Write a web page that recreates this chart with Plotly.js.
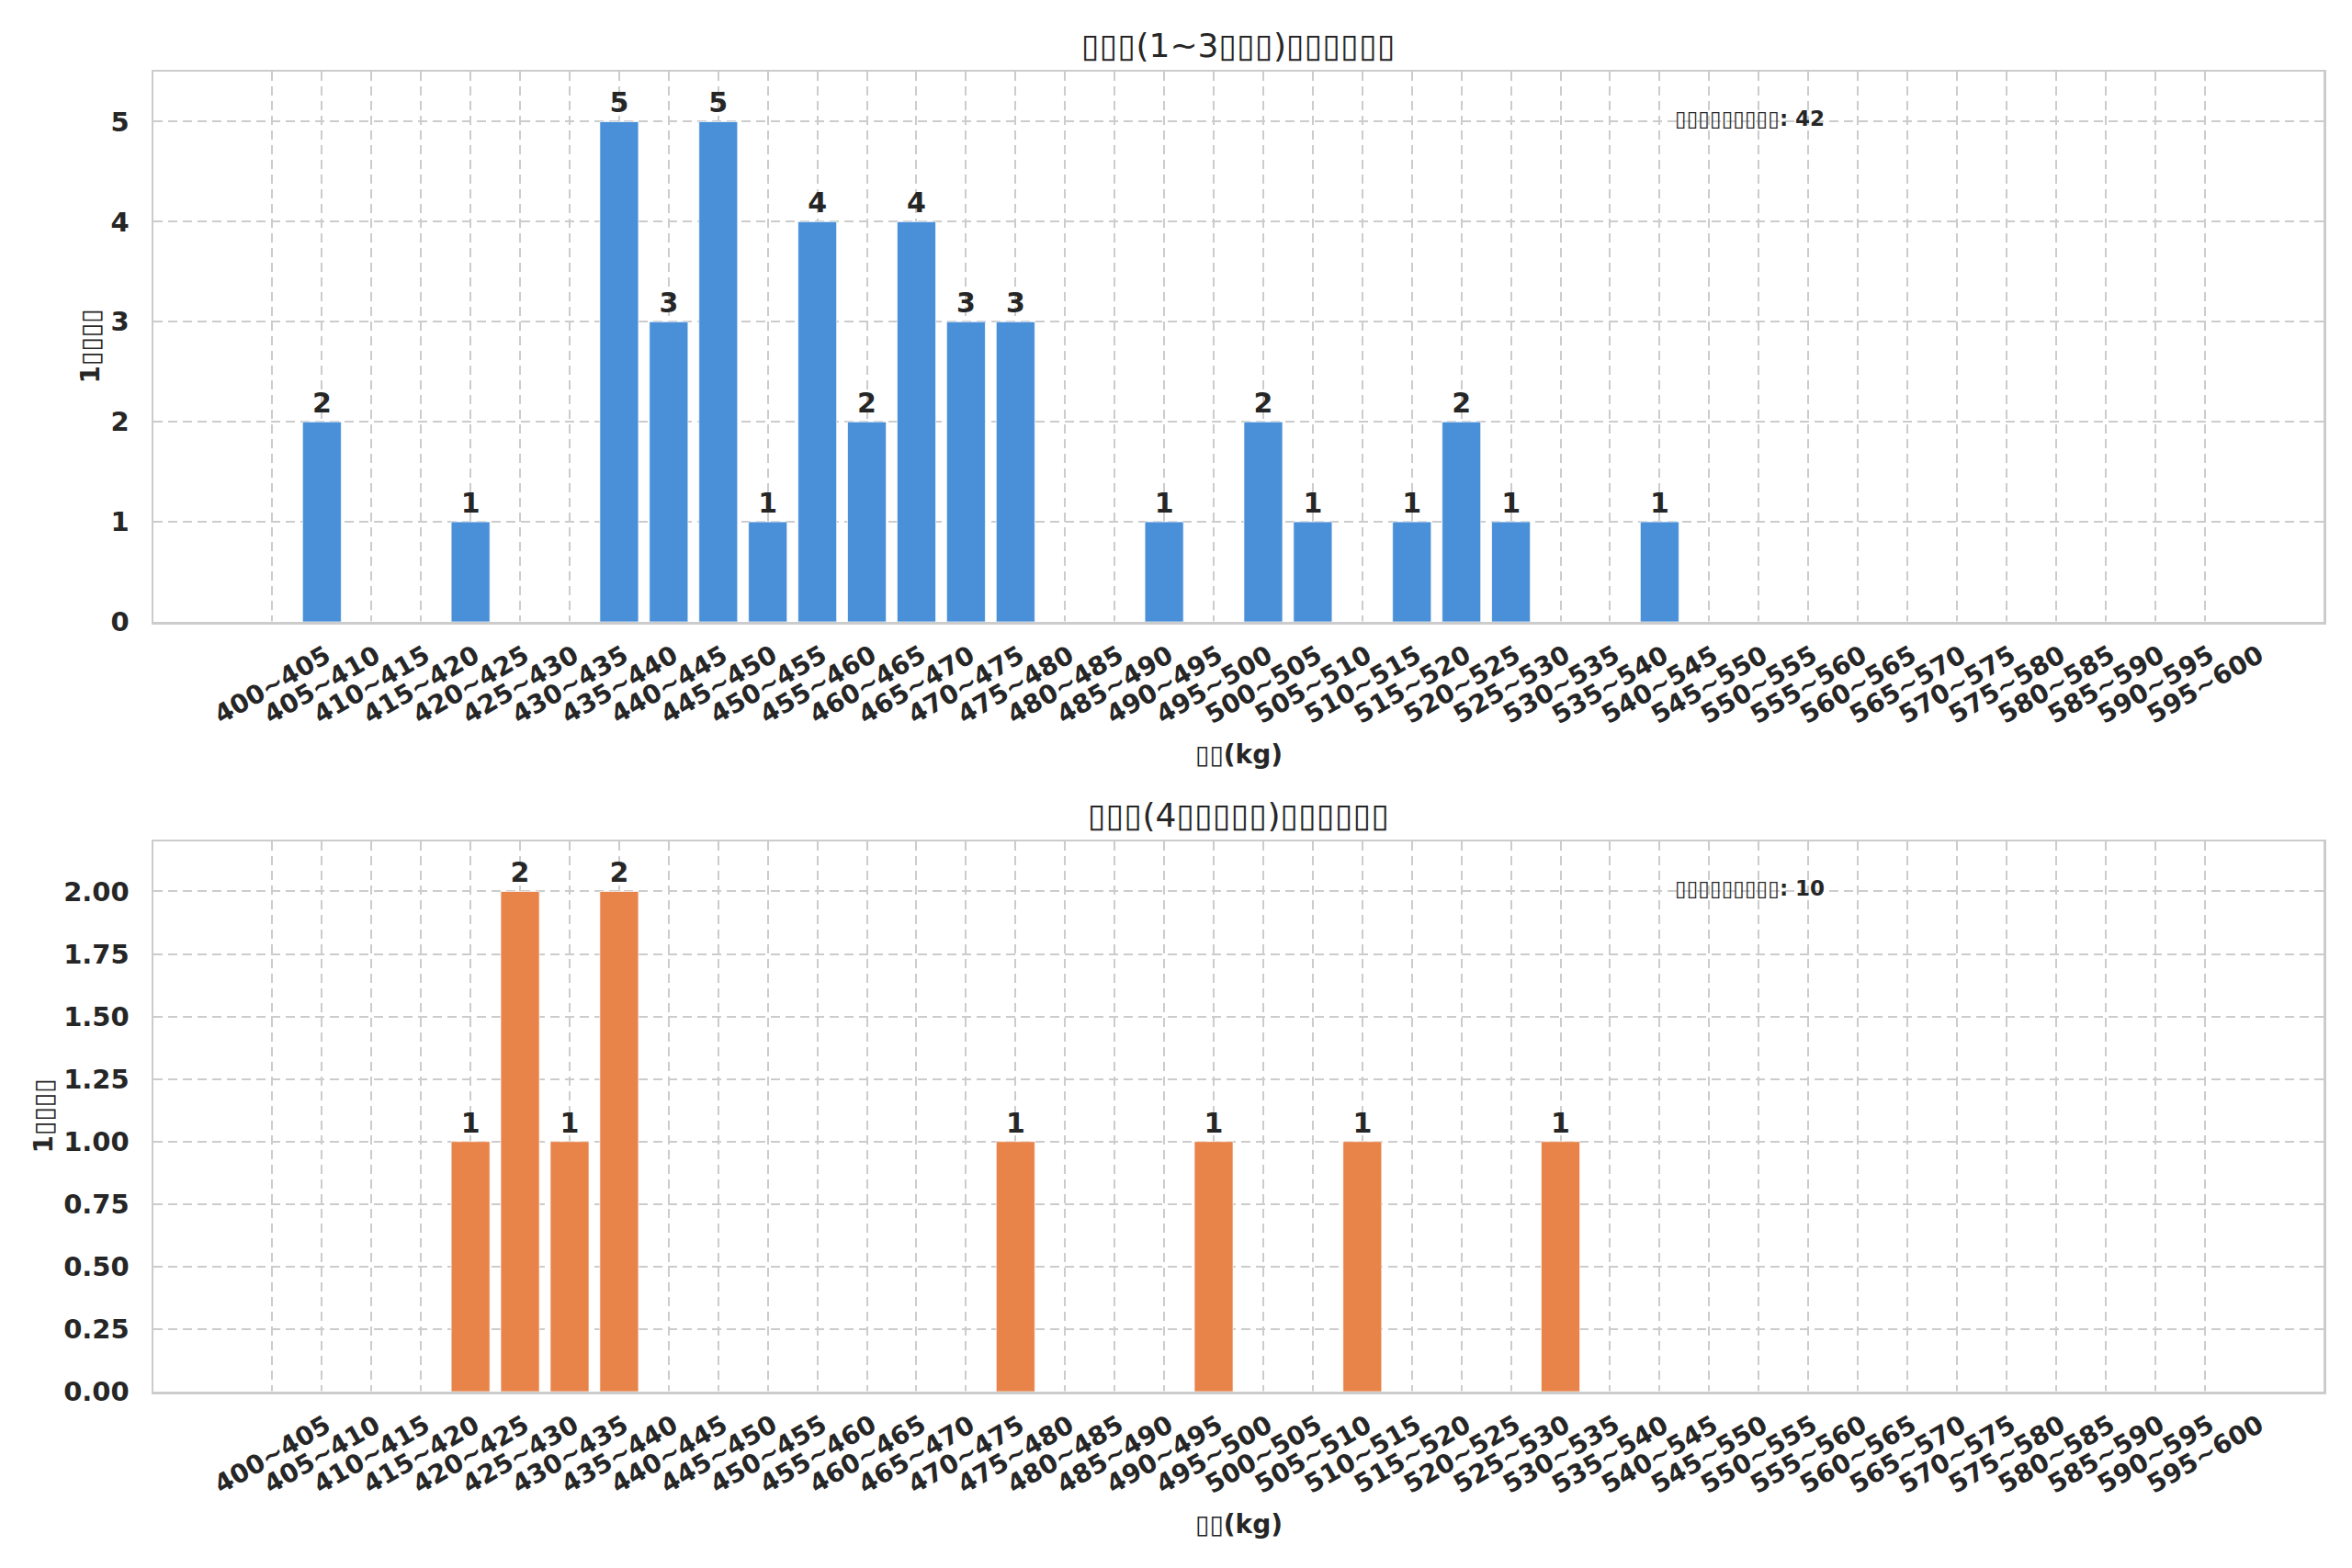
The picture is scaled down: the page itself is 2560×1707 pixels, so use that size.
<!DOCTYPE html>
<html>
<head>
<meta charset="utf-8">
<script src="https://cdn.plot.ly/plotly-3.0.1.min.js"></script>
<style>
body { margin: 0; background: #fff; }
#chart { width: 2560px; height: 1707px; }
</style>
</head>
<body>
<div id="chart"></div>
<script>
// weight bins (kg) shown on the x axis
var weightBins = [
    '400~405', '405~410', '410~415', '415~420', '420~425', '425~430', '430~435', '435~440',
    '440~445', '445~450', '450~455', '455~460', '460~465', '465~470', '470~475', '475~480',
    '480~485', '485~490', '490~495', '495~500', '500~505', '505~510', '510~515', '515~520',
    '520~525', '525~530', '530~535', '535~540', '540~545', '545~550', '550~555', '555~560',
    '560~565', '565~570', '570~575', '575~580', '580~585', '585~590', '590~595', '595~600'
];

// wins per bin, top panel (1~3)
var winsYoung = [
    0, 2, 0, 0, 1, 0, 0, 5, 3, 5, 1, 4, 2, 4, 3, 3, 0, 0, 1, 0,
    2, 1, 0, 1, 2, 1, 0, 0, 1, 0, 0, 0, 0, 0, 0, 0, 0, 0, 0, 0
];

// wins per bin, bottom panel (4~)
var winsOld = [
    0, 0, 0, 0, 1, 2, 1, 2, 0, 0, 0, 0, 0, 0, 0, 1, 0, 0, 0, 1,
    0, 0, 1, 0, 0, 0, 1, 0, 0, 0, 0, 0, 0, 0, 0, 0, 0, 0, 0, 0
];

var yTicksTop = [0, 1, 2, 3, 4, 5];
var yTicksBottom = [0, 0.25, 0.5, 0.75, 1, 1.25, 1.5, 1.75, 2];

// the source text is drawn as missing-glyph boxes, kept here as boxes
var titleTop = '▯▯▯(1~3▯▯▯)▯▯▯▯▯▯';
var titleBottom = '▯▯▯(4▯▯▯▯▯)▯▯▯▯▯▯';
var xTitle = '▯▯(kg)';
var yTitle = '1▯▯▯▯';
var totalText = '▯▯▯▯▯▯▯▯▯';

var W = 2560, H = 1707;
var FONT = 'DejaVu Sans';
var INK = '#262626';
var BLUE = '#4A90D9';
var ORANGE = '#E8834A';

var xs = weightBins.map(function (_, i) { return i; });

function sum(arr) {
    return arr.reduce(function (a, b) { return a + b; }, 0);
}

function barTrace(vals, color, xa, ya) {
    return {
        type: 'bar',
        x: xs,
        y: vals,
        xaxis: xa,
        yaxis: ya,
        width: 0.78,
        marker: { color: color, line: { color: 'rgba(255,255,255,0.7)', width: 1 } },
        text: vals.map(function (v) { return v > 0 ? String(v) : ''; }),
        textposition: 'outside',
        textfont: { family: FONT, size: 30, weight: 'bold', color: INK },
        constraintext: 'none',
        cliponaxis: false,
        hoverinfo: 'skip'
    };
}

var gridStyle = {
    showgrid: true,
    gridcolor: '#cccccc',
    gridwidth: 2,
    griddash: '10px,6px',
    showline: true,
    linecolor: '#cccccc',
    linewidth: 2.5,
    mirror: true,
    zeroline: false,
    fixedrange: true
};

function xAxis(anchor) {
    return Object.assign({}, gridStyle, {
        domain: [167 / W, 2529 / W],
        range: [-2.4, 41.4],
        anchor: anchor,
        tickmode: 'array',
        tickvals: xs,
        showticklabels: false,
        ticks: ''
    });
}

function yAxis(anchor, top, bottom, range, ticks, fmt) {
    return Object.assign({}, gridStyle, {
        domain: [1 - bottom / H, 1 - top / H],
        range: range,
        anchor: anchor,
        tickmode: 'array',
        tickvals: ticks,
        tickformat: fmt,
        ticks: '',
        ticklabelstandoff: 18,
        tickfont: { family: FONT, size: 29, weight: 'bold', color: INK }
    });
}

// panel geometry in pixels: axes top / bottom
var panels = [
    { top: 78, bottom: 677, xref: 'x', title: titleTop, total: sum(winsYoung), yTitleX: 98 },
    { top: 916, bottom: 1515, xref: 'x2', title: titleBottom, total: sum(winsOld), yTitleX: 47 }
];

var annotations = [];
panels.forEach(function (p) {
    weightBins.forEach(function (lab, i) {
        annotations.push({
            xref: p.xref, yref: 'paper', x: i, y: 1 - (p.bottom + 68) / H,
            text: lab, textangle: -30, showarrow: false,
            xanchor: 'center', yanchor: 'middle',
            font: { family: FONT, size: 28, weight: 'bold', color: INK }
        });
    });
    annotations.push({
        xref: 'paper', yref: 'paper', x: 1348 / W, y: 1 - (p.top - 29) / H,
        text: p.title, showarrow: false, xanchor: 'center', yanchor: 'middle',
        font: { family: FONT, size: 36, color: INK }
    });
    annotations.push({
        xref: 'paper', yref: 'paper', x: 1348 / W, y: 1 - (p.bottom + 144) / H,
        text: xTitle, showarrow: false, xanchor: 'center', yanchor: 'middle',
        font: { family: FONT, size: 28, weight: 'bold', color: INK }
    });
    annotations.push({
        xref: 'paper', yref: 'paper', x: p.yTitleX / W, y: 1 - (p.top + p.bottom) / 2 / H,
        text: yTitle, textangle: -90, showarrow: false, xanchor: 'center', yanchor: 'middle',
        font: { family: FONT, size: 28, weight: 'bold', color: INK }
    });
    annotations.push({
        xref: 'paper', yref: 'paper', x: 1821 / W, y: 1 - (p.top + 51) / H,
        text: totalText + ': ' + p.total, showarrow: false, xanchor: 'left', yanchor: 'middle',
        font: { family: FONT, size: 23, weight: 'bold', color: INK }
    });
});

var layout = {
    width: W,
    height: H,
    margin: { l: 0, r: 0, t: 0, b: 0 },
    paper_bgcolor: '#ffffff',
    plot_bgcolor: '#ffffff',
    showlegend: false,
    font: { family: FONT, color: INK },
    bargap: 0,
    xaxis: xAxis('y'),
    yaxis: yAxis('x', 78, 677, [0, 5.5], yTicksTop, 'd'),
    xaxis2: xAxis('y2'),
    yaxis2: yAxis('x2', 916, 1515, [0, 2.2], yTicksBottom, '.2f'),
    annotations: annotations
};

Plotly.newPlot('chart', [
    barTrace(winsYoung, BLUE, 'x', 'y'),
    barTrace(winsOld, ORANGE, 'x2', 'y2')
], layout, { staticPlot: true });
</script>
</body>
</html>
